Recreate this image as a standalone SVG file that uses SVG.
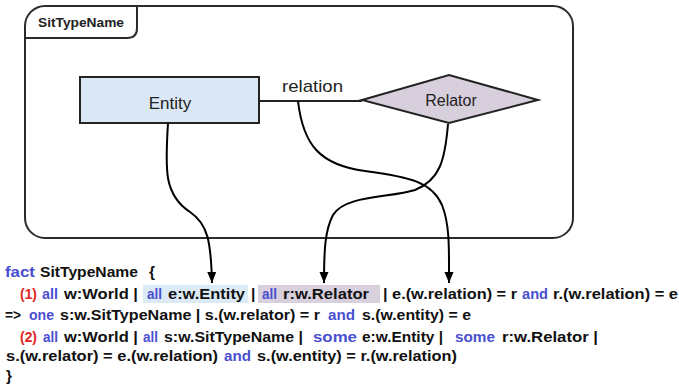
<svg xmlns="http://www.w3.org/2000/svg" width="679" height="385" viewBox="0 0 679 385">
  <style>
    .frame { fill: none; stroke: #2b2b2b; stroke-width: 2; }
    .lbl { font-family: "Liberation Sans", Arial, sans-serif; fill: #222; }
    .code { font-family: "Liberation Sans", Arial, sans-serif; font-size: 15.5px; font-weight: bold; fill: #111; }
    .kw { fill: #4a4fcf; }
    .num { fill: #e02424; }
    .wire { fill: none; stroke: #000; stroke-width: 2; }
  </style>
  <defs>
    <marker id="arrow" markerUnits="userSpaceOnUse" markerWidth="12" markerHeight="12" viewBox="0 0 12 12" refX="11" refY="6" orient="auto">
      <path d="M0,1.5 L11,6 L0,10.5 Z" fill="#000"/>
    </marker>
  </defs>

  <rect x="0" y="0" width="679" height="385" fill="#fff"/>

  <!-- package frame with name tab -->
  <g id="frame">
    <rect class="frame" x="25" y="6" width="548" height="232" rx="20" ry="20"/>
    <path class="frame" d="M25,38 L127,38 Q137,38 137,28 L137,6"/>
    <text class="lbl" x="38" y="27" font-size="13.5" font-weight="bold" textLength="86" lengthAdjust="spacingAndGlyphs">SitTypeName</text>
  </g>

  <!-- relation line between Entity and Relator -->
  <g id="relation">
    <line x1="259" y1="101" x2="362" y2="101" stroke="#222" stroke-width="2"/>
    <text class="lbl" x="282" y="92" font-size="17" fill="#333" textLength="61" lengthAdjust="spacingAndGlyphs">relation</text>
  </g>

  <g id="entity">
    <rect x="80" y="77" width="179" height="46" fill="#dae8f5" stroke="#222" stroke-width="2"/>
    <text class="lbl" x="170" y="109" font-size="17" text-anchor="middle">Entity</text>
  </g>

  <g id="relator">
    <polygon points="362,100 449,75 538,100 449,123" fill="#d8cfdd" stroke="#222" stroke-width="2"/>
    <text class="lbl" x="451" y="106" font-size="16" text-anchor="middle">Relator</text>
  </g>

  <!-- code fact -->
  <g id="fact">
    <rect x="143" y="285" width="105" height="18" fill="#dceaf6"/>
    <rect x="258" y="285" width="122" height="18" fill="#d9d0de"/>

    <text class="code" y="277">
      <tspan class="kw" x="5" textLength="30" lengthAdjust="spacingAndGlyphs">fact</tspan>
      <tspan x="40" textLength="98" lengthAdjust="spacingAndGlyphs">SitTypeName</tspan>
      <tspan x="149">{</tspan>
    </text>

    <text class="code" y="299">
      <tspan class="num" x="20" textLength="17" lengthAdjust="spacingAndGlyphs">(1)</tspan>
      <tspan class="kw" x="42" textLength="16" lengthAdjust="spacingAndGlyphs">all</tspan>
      <tspan x="64" textLength="74" lengthAdjust="spacingAndGlyphs">w:World |</tspan>
      <tspan class="kw" x="147" textLength="15" lengthAdjust="spacingAndGlyphs">all</tspan>
      <tspan x="168" textLength="77" lengthAdjust="spacingAndGlyphs">e:w.Entity</tspan>
      <tspan x="251">|</tspan>
      <tspan class="kw" x="262" textLength="15" lengthAdjust="spacingAndGlyphs">all</tspan>
      <tspan x="283" textLength="86" lengthAdjust="spacingAndGlyphs">r:w.Relator</tspan>
      <tspan x="383" textLength="134" lengthAdjust="spacingAndGlyphs">| e.(w.relation) = r</tspan>
      <tspan class="kw" x="522" textLength="26" lengthAdjust="spacingAndGlyphs">and</tspan>
      <tspan x="553" textLength="125" lengthAdjust="spacingAndGlyphs">r.(w.relation) = e</tspan>
    </text>

    <text class="code" y="320">
      <tspan x="5" textLength="16" lengthAdjust="spacingAndGlyphs">=&gt;</tspan>
      <tspan class="kw" x="29" textLength="25" lengthAdjust="spacingAndGlyphs">one</tspan>
      <tspan x="60" textLength="260" lengthAdjust="spacingAndGlyphs">s:w.SitTypeName | s.(w.relator) = r</tspan>
      <tspan class="kw" x="328" textLength="27" lengthAdjust="spacingAndGlyphs">and</tspan>
      <tspan x="362" textLength="109" lengthAdjust="spacingAndGlyphs">s.(w.entity) = e</tspan>
    </text>

    <text class="code" y="342">
      <tspan class="num" x="20" textLength="17" lengthAdjust="spacingAndGlyphs">(2)</tspan>
      <tspan class="kw" x="43" textLength="15" lengthAdjust="spacingAndGlyphs">all</tspan>
      <tspan x="64" textLength="74" lengthAdjust="spacingAndGlyphs">w:World |</tspan>
      <tspan class="kw" x="143" textLength="15" lengthAdjust="spacingAndGlyphs">all</tspan>
      <tspan x="164" textLength="139" lengthAdjust="spacingAndGlyphs">s:w.SitTypeName |</tspan>
      <tspan class="kw" x="313" textLength="44" lengthAdjust="spacingAndGlyphs">some</tspan>
      <tspan x="362" textLength="81" lengthAdjust="spacingAndGlyphs">e:w.Entity |</tspan>
      <tspan class="kw" x="455" textLength="40" lengthAdjust="spacingAndGlyphs">some</tspan>
      <tspan x="502" textLength="96" lengthAdjust="spacingAndGlyphs">r:w.Relator |</tspan>
    </text>

    <text class="code" y="361">
      <tspan x="6" textLength="212" lengthAdjust="spacingAndGlyphs">s.(w.relator) = e.(w.relation)</tspan>
      <tspan class="kw" x="224" textLength="27" lengthAdjust="spacingAndGlyphs">and</tspan>
      <tspan x="257" textLength="200" lengthAdjust="spacingAndGlyphs">s.(w.entity) = r.(w.relation)</tspan>
    </text>

    <text class="code" y="381"><tspan x="6">}</tspan></text>
  </g>

  <!-- connectors from the diagram into the fact text -->
  <g id="connectors">
    <path class="wire" marker-end="url(#arrow)" d="M168,123 C165,170 164,195 190,212 C208,224 211,242 212,283"/>
    <path class="wire" marker-end="url(#arrow)" d="M298,101 C303,145 320,165 365,171 C410,177 432,182 442,205 C450,225 449,250 449,283"/>
    <path class="wire" marker-end="url(#arrow)" d="M448,124 C445,160 440,180 415,190 C390,198 345,195 333,215 C325,230 324,250 324,283"/>
  </g>
</svg>
